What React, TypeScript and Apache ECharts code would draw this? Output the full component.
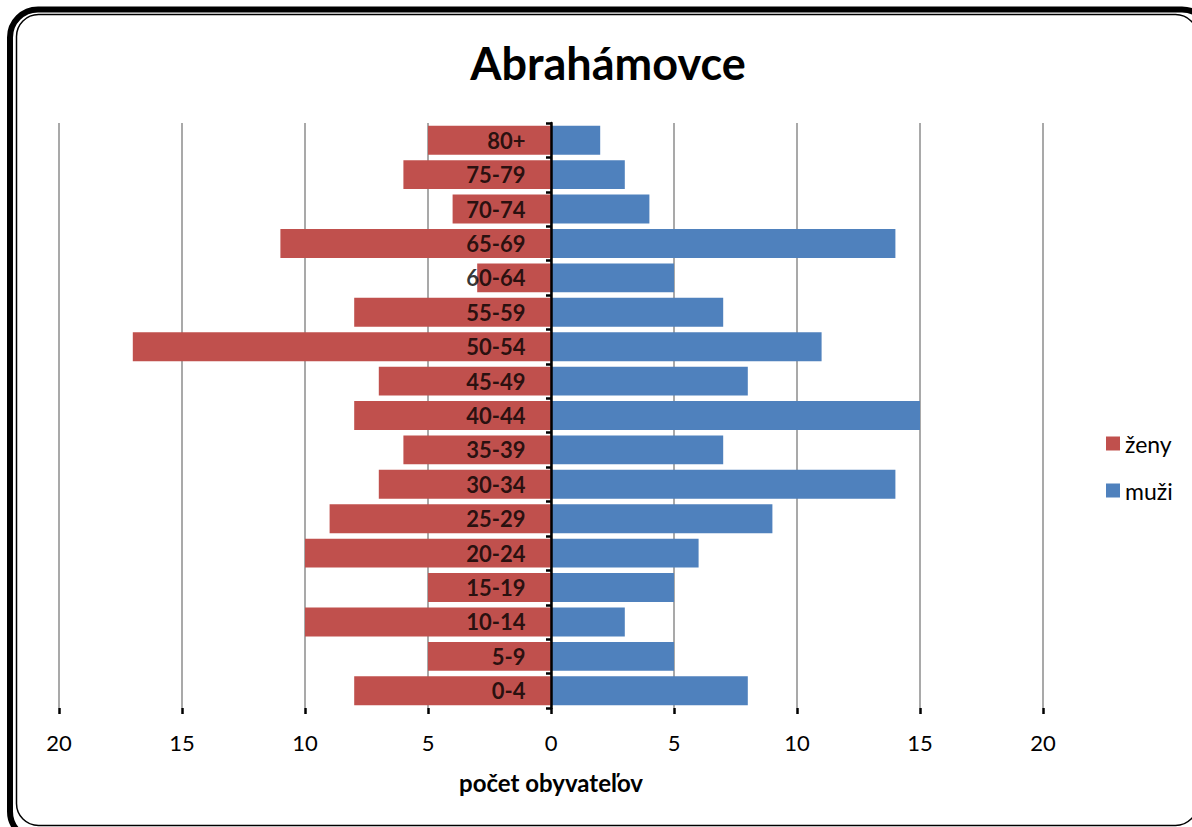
import React, { useEffect, useRef } from "react";
import * as echarts from "echarts";

const categories = ["0-4", "5-9", "10-14", "15-19", "20-24", "25-29", "30-34", "35-39", "40-44", "45-49", "50-54", "55-59", "60-64", "65-69", "70-74", "75-79", "80+"];
const women = [8, 5, 10, 5, 10, 9, 7, 6, 8, 7, 17, 8, 3, 11, 4, 6, 5];
const men = [8, 5, 3, 5, 6, 9, 14, 7, 15, 8, 11, 7, 5, 14, 4, 3, 2];
const xTicks = [-20, -15, -10, -5, 0, 5, 10, 15, 20];

const FONT = "Lato, 'Open Sans', sans-serif";

export default function App() {
  const ref = useRef<HTMLDivElement>(null);
  useEffect(() => {
    const chart = echarts.init(ref.current!, null, { renderer: "svg" });
    chart.setOption({
      animation: false,
      backgroundColor: "#fff",
      textStyle: { fontFamily: FONT },
      title: {
        text: "Abrahámovce",
        left: 603,
        top: 35,
        textAlign: "center",
        textStyle: { fontFamily: FONT, fontSize: 45, fontWeight: "bold", color: "#000" },
      },
      legend: {
        orient: "vertical",
        left: 1101,
        top: 427,
        itemWidth: 14,
        itemHeight: 14,
        itemGap: 24,
        icon: "rect",
        data: ["ženy", "muži"],
        textStyle: { fontFamily: FONT, fontSize: 23, color: "#000" },
      },
      grid: { left: 59, right: 149, top: 123, bottom: 119, outerBoundsMode: "none", containLabel: false },
      xAxis: {
        type: "value",
        min: xTicks[0],
        max: xTicks[xTicks.length - 1],
        interval: 5,
        name: "počet obyvateľov",
        nameLocation: "middle",
        nameGap: 62,
        nameTextStyle: { fontFamily: FONT, fontSize: 24, fontWeight: "bold", color: "#000" },
        axisLine: { lineStyle: { color: "#000", width: 2.5 } },
        axisTick: { show: true, length: 6, lineStyle: { color: "#000", width: 2.5 } },
        axisLabel: {
          formatter: (v: number) => String(Math.abs(v)),
          fontFamily: FONT,
          fontSize: 22,
          color: "#000",
          margin: 23,
        },
        splitLine: { show: true, lineStyle: { color: "#8c8c8c", width: 1.5 } },
      },
      yAxis: {
        type: "category",
        data: categories,
        z: 5,
        axisLine: { onZero: true, lineStyle: { color: "#000", width: 2.5 } },
        axisTick: { show: true, length: 5, lineStyle: { color: "#000", width: 2.5 } },
        axisLabel: { show: false },
        splitLine: { show: false },
      },
      series: [
        {
          name: "ženy",
          type: "bar",
          data: women.map((v) => -v),
          barGap: "-100%",
          barCategoryGap: "16%",
          itemStyle: { color: "#C0504D" },
        },
        {
          name: "muži",
          type: "bar",
          data: men,
          barGap: "-100%",
          barCategoryGap: "16%",
          itemStyle: { color: "#4F81BD" },
        },
        {
          name: "labels",
          type: "scatter",
          data: categories.map((c) => [0, c]),
          symbolSize: 1,
          itemStyle: { color: "rgba(0,0,0,0)" },
          silent: true,
          z: 10,
          label: {
            show: true,
            position: "left",
            distance: 25,
            formatter: (p: any) => p.value[1],
            fontFamily: FONT,
            fontSize: 22,
            fontWeight: "bold",
            color: "#000",
          },
        },
      ],
      graphic: [
        {
          type: "rect",
          shape: { x: 10, y: 9.5, width: 1200, height: 830, r: 28 },
          style: { fill: "none", stroke: "#000", lineWidth: 6 },
          silent: true,
          z: 100,
        },
        {
          type: "rect",
          shape: { x: 16.5, y: 14.5, width: 1181, height: 811, r: 22 },
          style: { fill: "none", stroke: "#000", lineWidth: 1.5 },
          silent: true,
          z: 100,
        },
      ],
    });
    return () => chart.dispose();
  }, []);
  return (
    <div
      ref={ref}
      style={{ position: "fixed", left: 0, top: 0, width: 1192, height: 827, background: "#fff" }}
    />
  );
}
